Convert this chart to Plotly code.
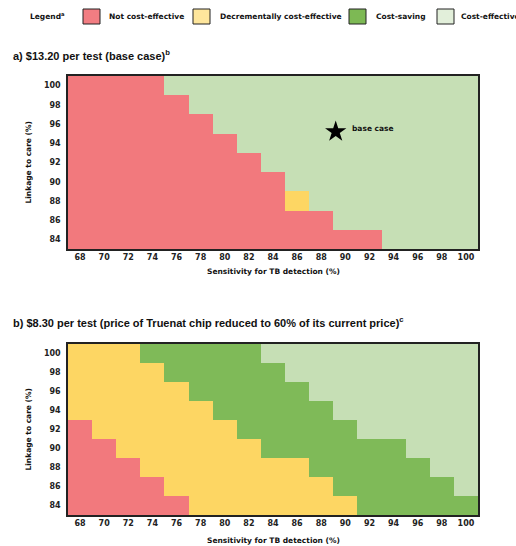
import plotly.graph_objects as go

# ---- data ----
sensitivity = [68, 70, 72, 74, 76, 78, 80, 82, 84, 86, 88, 90, 92, 94, 96, 98, 100]
linkage = [84, 86, 88, 90, 92, 94, 96, 98, 100]
x_ticks = [68, 70, 72, 74, 76, 78, 80, 82, 84, 86, 88, 90, 92, 94, 96, 98, 100]
y_ticks = [84, 86, 88, 90, 92, 94, 96, 98, 100]

categories = ["Not cost-effective", "Decrementally cost-effective", "Cost-saving", "Cost-effective"]
codes = {"N": 0, "D": 1, "S": 2, "C": 3}

# rows from linkage 84 (bottom) to 100 (top); one letter per sensitivity value
panel_a_rows = [
    "NNNNNNNNNNNNNCCCC",
    "NNNNNNNNNNNCCCCCC",
    "NNNNNNNNNDCCCCCCC",
    "NNNNNNNNNCCCCCCCC",
    "NNNNNNNNCCCCCCCCC",
    "NNNNNNNCCCCCCCCCC",
    "NNNNNNCCCCCCCCCCC",
    "NNNNNCCCCCCCCCCCC",
    "NNNNCCCCCCCCCCCCC",
]
panel_b_rows = [
    "NNNNNDDDDDDDSSSSS",
    "NNNNDDDDDDDSSSSSC",
    "NNNDDDDDDDSSSSSCC",
    "NNDDDDDDSSSSSSCCC",
    "NDDDDDDSSSSSCCCCC",
    "DDDDDDSSSSSCCCCCC",
    "DDDDDSSSSSCCCCCCC",
    "DDDDSSSSSCCCCCCCC",
    "DDDSSSSSCCCCCCCCC",
]
base_case_sens = [89.2]
base_case_link = [95.2]

# ---- style ----
cell_colors = ["#F2797D", "#FDD663", "#7FBA58", "#C6DFB5"]
legend_colors = ["#F27D82", "#FEE69C", "#7DB954", "#E2EFDA"]
W, H = 516, 546
FONT = "DejaVu Sans"

def px_x(p):
    return p / W

def px_y(p):
    return 1 - p / H

colorscale = []
for i, c in enumerate(cell_colors):
    colorscale.append([i / 4, c])
    colorscale.append([(i + 1) / 4, c])

def to_z(rows):
    return [[codes[ch] for ch in r] for r in rows]

def to_text(rows):
    return [[categories[codes[ch]] for ch in r] for r in rows]

fig = go.Figure()
for idx, rows in enumerate([panel_a_rows, panel_b_rows]):
    ax = "" if idx == 0 else "2"
    fig.add_trace(go.Heatmap(
        x=sensitivity, y=linkage, z=to_z(rows), text=to_text(rows),
        hovertemplate="Sensitivity %{x}%<br>Linkage %{y}%<br>%{text}<extra></extra>",
        zmin=-0.5, zmax=3.5, colorscale=colorscale, showscale=False,
        xaxis="x" + ax, yaxis="y" + ax, xgap=0, ygap=0,
    ))

fig.add_trace(go.Scatter(
    x=base_case_sens, y=base_case_link, mode="markers",
    marker=dict(symbol="star", size=16, color="black"),
    xaxis="x", yaxis="y", showlegend=False, hoverinfo="skip",
))

tickfont = dict(family=FONT, size=8, color="#222", weight="bold")
xa = dict(range=[67, 101], tickvals=x_ticks, ticks="", showgrid=False, zeroline=False,
          showline=True, linecolor="#222", linewidth=1.5, mirror=True, tickfont=tickfont,
          fixedrange=True)
ya = dict(range=[83, 101], tickvals=y_ticks, ticks="", showgrid=False, zeroline=False,
          showline=True, linecolor="#222", linewidth=1.5, mirror=True, tickfont=tickfont,
          fixedrange=True, ticklabelstandoff=4)

dom_x = [px_x(68), px_x(478)]
fig.update_layout(
    width=W, height=H, margin=dict(l=0, r=0, t=0, b=0),
    paper_bgcolor="white", plot_bgcolor="white", showlegend=False,
    xaxis=dict(xa, domain=dom_x, anchor="y"),
    yaxis=dict(ya, domain=[px_y(249), px_y(76)], anchor="x"),
    xaxis2=dict(xa, domain=dom_x, anchor="y2"),
    yaxis2=dict(ya, domain=[px_y(515), px_y(344)], anchor="x2"),
)

ann = []
def text(xp, yp, s, size, xanchor="left", angle=0, family=FONT):
    ann.append(dict(x=px_x(xp), y=px_y(yp), xref="paper", yref="paper", text=s,
                    showarrow=False, xanchor=xanchor, yanchor="middle", textangle=angle,
                    font=dict(family=family, size=size, color="#111")))

# titles
text(11, 55, "<b>a) $13.20 per test (base case)<sup>b</sup></b>", 11, family="Liberation Sans")
text(11, 322, "<b>b) $8.30 per test (price of Truenat chip reduced to 60% of its current price)<sup>c</sup></b>",
     11, family="Liberation Sans")
# axis titles
for top, bot, xt in [(76, 249, 271), (344, 515, 540)]:
    text(273, xt, "<b>Sensitivity for TB detection (%)</b>", 7.5, xanchor="center")
    text(28, (top + bot) / 2, "<b>Linkage to care (%)</b>", 7.5, xanchor="center", angle=-90)
# base case label
ann.append(dict(x=90.4, y=95.55, xref="x", yref="y", text="<b>base case</b>", showarrow=False,
                xanchor="left", yanchor="middle", font=dict(family=FONT, size=7.5, color="#111")))

# legend
text(28, 16, "<b>Legend<sup>a</sup></b>", 7.5)
shapes = []
legend_boxes = [(83, 107), (193, 218), (349, 374), (437, 459)]
for (bx, tx), c, lab in zip(legend_boxes, legend_colors, categories):
    shapes.append(dict(type="rect", xref="paper", yref="paper",
                       x0=px_x(bx), x1=px_x(bx + 17), y0=px_y(24), y1=px_y(9),
                       fillcolor=c, line=dict(color="#222", width=1)))
    text(tx, 16, "<b>" + lab + "</b>", 7.5)

fig.update_layout(annotations=ann, shapes=shapes)
fig.write_html("out.html", config={"displayModeBar": False},
               post_script="document.body.style.margin='0';document.body.style.overflow='hidden';")
